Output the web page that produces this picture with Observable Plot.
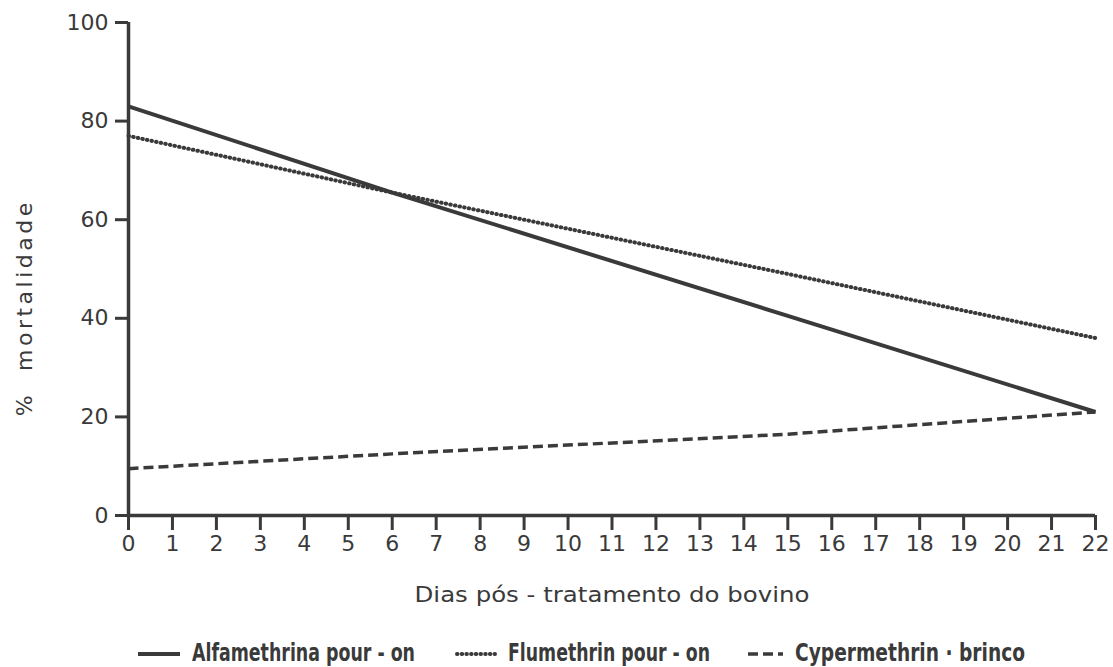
<!DOCTYPE html>
<html><head><meta charset="utf-8">
<script src="https://cdn.jsdelivr.net/npm/d3@7"></script>
<script src="https://cdn.jsdelivr.net/npm/@observablehq/plot@0.6"></script>
<style>
body{margin:0;background:#fff;font-family:"DejaVu Sans",sans-serif;color:#3a3a3a}
#chart svg, #legend svg{display:block}
</style></head><body>
<div id="chart"></div>
<div id="legend"></div>
<script>
const series = ["Alfamethrina pour - on","Flumethrin pour - on","Cypermethrin · brinco"];
const days = [0, 6, 15, 22];
const alfamethrina = [83, 65.5, 40.5, 21];
const flumethrin = [77, 65.5, 49, 36];
const cypermethrin = [9.5, 12.5, 16.5, 21];
const xTicks = d3.range(0, 23);
const yTicks = [0, 20, 40, 60, 80, 100];
const xTitle = "Dias pós - tratamento do bovino";
const yTitle = "%  mortalidade";
const dashes = ["none", "0.5,4.2", "10,5"];
const caps = ["butt", "round", "butt"];
const widths = [4, 4, 3.5];

const rows = [];
[alfamethrina, flumethrin, cypermethrin].forEach((vals, i) =>
  vals.forEach((v, j) => rows.push({serie: series[i], day: days[j], value: v})));

const ink = "#3a3a3a";
const plot = Plot.plot({
  width: 1113, height: 625,
  marginLeft: 128, marginRight: 18, marginTop: 22, marginBottom: 110,
  style: {fontFamily: "DejaVu Sans, sans-serif", fontSize: "22px", color: ink, background: "#fff", overflow: "visible"},
  x: {domain: [0, 22]},
  y: {domain: [0, 100]},
  marks: [
    Plot.axisX({ticks: xTicks, tickSize: 15, tickPadding: 5, tickFormat: d => d, label: null, stroke: ink, strokeWidth: 3, fontSize: 22}),
    Plot.axisY({ticks: yTicks, tickSize: 13, tickPadding: 7, label: null, stroke: ink, strokeWidth: 3, fontSize: 22}),
    Plot.ruleX([0], {stroke: ink, strokeWidth: 3.5}),
    Plot.ruleY([0], {stroke: ink, strokeWidth: 3.5}),
    ...series.map((s, i) => Plot.line(rows.filter(r => r.serie === s), {
      x: "day", y: "value", stroke: ink, strokeWidth: widths[i],
      strokeDasharray: dashes[i], strokeLinecap: caps[i]
    })),
    Plot.text([xTitle], {frameAnchor: "bottom", dy: 86, fontSize: 22, fill: ink, className: "xtitle"}),
    Plot.text([yTitle], {frameAnchor: "left", dx: -104, rotate: -90, fontSize: 22, fill: ink, className: "ytitle"})
  ]
});
document.getElementById("chart").append(plot);
d3.select(plot).selectAll(".xtitle text").attr("textLength", 395).attr("lengthAdjust", "spacingAndGlyphs");
const yt = d3.select(plot).select(".ytitle");
yt.selectAll("text").style("letter-spacing", "3.5px");
{
  const svgBox = plot.getBoundingClientRect();
  const b = yt.node().getBoundingClientRect();
  const cx = b.x - svgBox.x + b.width / 2, cy = b.y - svgBox.y + b.height / 2;
  const target = plot.scale("y").apply(40); // title centre sits a little above the 40% level, as in the reference
  const old = yt.attr("transform") || "";
  yt.attr("transform", `translate(${24 - cx},${target - 10 - cy}) ${old}`);
}

// legend
const swatch = [[138, 180], [457, 495], [748, 783]];
const textX = [[192, 223], [508, 202], [795, 230]];
const lg = d3.select("#legend").append("svg").attr("width", 1113).attr("height", 42);
series.forEach((s, i) => {
  lg.append("line").attr("x1", swatch[i][0]).attr("x2", swatch[i][1]).attr("y1", 29).attr("y2", 29)
    .attr("stroke", ink).attr("stroke-width", widths[i]).attr("stroke-dasharray", dashes[i]).attr("stroke-linecap", caps[i]);
  lg.append("text").attr("x", textX[i][0]).attr("y", 36).text(s)
    .attr("font-family", "'Liberation Sans Narrow','DejaVu Sans Condensed','DejaVu Sans',sans-serif")
    .attr("font-weight", "bold").attr("font-size", 24).attr("fill", ink)
    .attr("textLength", textX[i][1]).attr("lengthAdjust", "spacingAndGlyphs");
});
</script>
</body></html>
